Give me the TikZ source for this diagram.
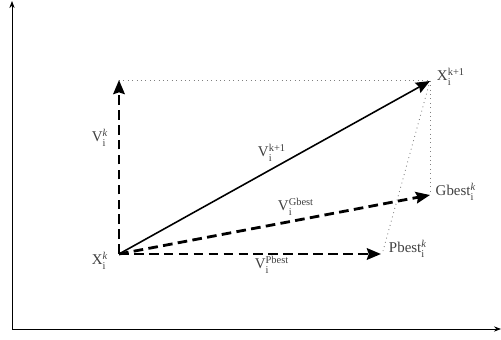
\documentclass[tikz,border=0pt]{standalone}
\usepackage{amsmath}
\usepackage{fontspec}
\setmainfont{Liberation Serif}
\usepackage{tikz}
\usetikzlibrary{arrows.meta, positioning}

\newcommand{\vlab}[2]{#1$_{\text{i}}^{\text{#2}}$}

\begin{document}
\begin{tikzpicture}[
            axis/.style={-{Stealth[length=4pt,width=3pt]}, line width=0.5pt},
            vecsolid/.style={-{Stealth[length=8pt,width=6.5pt,inset=1pt]}, line width=0.9pt},
            vecdash/.style={-{Stealth[length=8pt,width=6.5pt,inset=1pt]}, line width=1.6pt, dash pattern=on 5.5pt off 3pt},
            guide/.style={dotted, gray, line width=0.5pt},
            lbl/.style={text=black!75, font=\fontsize{8.5}{10}\selectfont, inner sep=0pt},
        ]
            \useasboundingbox (0,0) rectangle (10.02,6.78);
            
            % axes
            \coordinate (orig) at (0.24,0.20);
            \coordinate (ytop) at (0.24,6.76);
            \coordinate (xend) at (10.02,0.20);
            \draw[axis] (orig) -- (ytop);
            \draw[axis] (orig) -- (xend);
            
            % points
            \coordinate (xk) at (2.38,1.70);
            \coordinate (vk) at (2.38,5.18);
            \coordinate (xnew) at (8.60,5.16);
            \coordinate (gbest) at (8.60,2.88);
            \coordinate (pbest) at (7.62,1.70);
            \coordinate (pcorner) at (7.66,1.76);
            
            % guide lines
            \draw[guide] (vk) -- (8.60,5.18) -- (gbest);
            \draw[guide] (xnew) -- (pcorner);
            
            % vectors
            \draw[vecdash] (xk) -- (vk);
            \draw[vecdash] (xk) -- (gbest);
            \draw[vecdash] (xk) -- (pbest);
            \draw[vecsolid] (xk) -- (xnew);
            
            % labels
            \node[lbl] (lxk) at (2.00,1.56) {\vlab{X}{\textit{k}}};
            \node[lbl] (lvk) at (2.00,4.02) {\vlab{V}{\textit{k}}};
            \node[lbl] (lvnew) at (5.44,3.72) {\vlab{V}{k+1}};
            \node[lbl] (lvg) at (5.92,2.64) {\vlab{V}{Gbest}};
            \node[lbl] (lvp) at (5.44,1.48) {\vlab{V}{Pbest}};
            \node[lbl] (lxnew) at (9.02,5.24) {\vlab{X}{k+1}};
            \node[lbl] (lg) at (9.12,2.94) {Gbest$_{\text{i}}^{\text{\textit{k}}}$};
            \node[lbl] (lp) at (8.16,1.80) {Pbest$_{\text{i}}^{\text{\textit{k}}}$};

        \end{tikzpicture}
\end{document}
